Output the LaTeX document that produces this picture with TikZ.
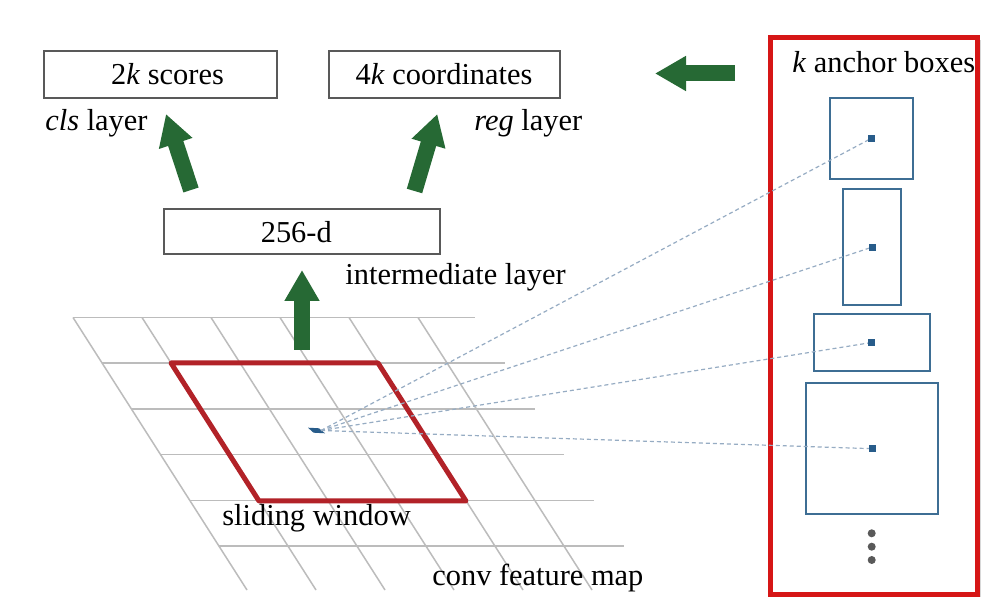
\documentclass[tikz,border=0pt]{standalone}
\usepackage{fontspec}
\setmainfont{Liberation Serif}
\usepackage{tikz}
\usetikzlibrary{arrows.meta}
\usetikzlibrary{shadows}
\usetikzlibrary{calc}

\definecolor{arrowgreen}{RGB}{38,105,52}
\definecolor{windowred}{RGB}{178,34,40}
\definecolor{framered}{RGB}{214,22,22}
\definecolor{anchorblue}{RGB}{62,110,148}
\definecolor{dotblue}{RGB}{40,92,138}
\definecolor{raygray}{RGB}{150,172,195}
\definecolor{gridgray}{RGB}{188,188,188}

\begin{document}
\begin{tikzpicture}[x=0.5pt, y=-0.5pt, font=\fontsize{15.2}{18}\selectfont,
    layerbox/.style={draw=black!65, line width=1pt, minimum height=23.3pt, inner sep=0pt},
    lbl/.style={anchor=base west, inner sep=0pt},
    anchorbox/.style={draw=anchorblue, line width=1pt, inner sep=0pt},
    centredot/.style={fill=dotblue, inner sep=0pt, minimum size=3.5pt},
    fatarrow/.style={draw=arrowgreen, line width=8pt, -{Triangle[width=16.5pt, length=15.5pt]}},
    gridline/.style={draw=gridgray, line width=0.75pt},
    ray/.style={draw=raygray, line width=0.6pt, dash pattern=on 2pt off 1.5pt}]

    \fill[white] (0,0) rectangle (990,613);
    \useasboundingbox (0,0) rectangle (990,613);

    % anchor frame
    \draw[framered, line width=2.5pt, fill=white,
          drop shadow={shadow xshift=1.5pt, shadow yshift=-1.5pt, opacity=0.3}]
        (770.5,37.5) rectangle (977.5,594.5);

    % conv feature map
    \foreach \j in {0,...,5}
        \draw[gridline] ({73+29.2*\j},{317.5+45.75*\j}) -- ({475+29.8*\j},{317.5+45.75*\j});
    \foreach \i in {0,...,5}
        \draw[gridline] ({73+69*\i},317.5) -- ({247+69*\i},590);

    \draw[windowred, line width=2.5pt, line join=round] (171,363) -- (378,363) -- (466,501) -- (259,501) -- cycle;
    \fill[dotblue] (308,427.7) -- (319,428.3) -- (325,433.3) -- (313.5,432.7) -- cycle;
    \coordinate (ctr) at (321,430.5);

    \node[lbl] (slide) at (222,526) {sliding window};
    \node[lbl] (conv) at (432,586) {conv feature map};

    % anchors
    \node[lbl] (anchors) at (792,73) {\textit{k} anchor boxes};
    \node[anchorbox, minimum width=41.5pt, minimum height=40.7pt] (box1) at (871.5,138.3) {};
    \node[anchorbox, minimum width=28.7pt, minimum height=57.8pt] (box2) at (872,247.2) {};
    \node[anchorbox, minimum width=58pt, minimum height=28.2pt] (box3) at (871.7,342.5) {};
    \node[anchorbox, minimum width=66pt, minimum height=65.3pt] (box4) at (872,448.7) {};

    \foreach \b in {box1,box2,box3,box4} {
        \draw[ray] (ctr) -- (\b.center);
        \node[centredot] at (\b.center) {};
    }
    \foreach \y in {533.3,546.7,560}
        \fill[black!65] (871.7,\y) circle (2pt);

    % layers
    \node[layerbox, minimum width=116.5pt] (scores) at (160.5,74.5) {\hspace*{7pt}2\textit{k} scores};
    \node[layerbox, minimum width=115.5pt] (coords) at (444,74.5) {4\textit{k} coordinates};
    \node[layerbox, minimum width=137.8pt, minimum height=22.8pt] (hidden) at (301.7,231.7) {256-d\hspace*{5.4pt}};

    \node[lbl] (cls) at (45,130.7) {\textit{cls} layer};
    \node[lbl] (reg) at (474,131) {\textit{reg} layer};
    \node[lbl] (inter) at (345,285) {intermediate layer};

    \coordinate (clsfoot) at (191,190);
    \coordinate (clshead) at (166,114);
    \coordinate (regfoot) at (414.5,191);
    \coordinate (reghead) at (437.3,114);
    \coordinate (winfoot) at (302,350);
    \coordinate (winhead) at (302,270);
    \coordinate (boxfoot) at (735,73.5);
    \coordinate (boxhead) at (655,73.5);

    \draw[fatarrow] (clsfoot) -- (clshead);
    \draw[fatarrow] (regfoot) -- (reghead);
    \draw[fatarrow] (winfoot) -- (winhead);
    \draw[fatarrow] (boxfoot) -- (boxhead);

\end{tikzpicture}
\end{document}
